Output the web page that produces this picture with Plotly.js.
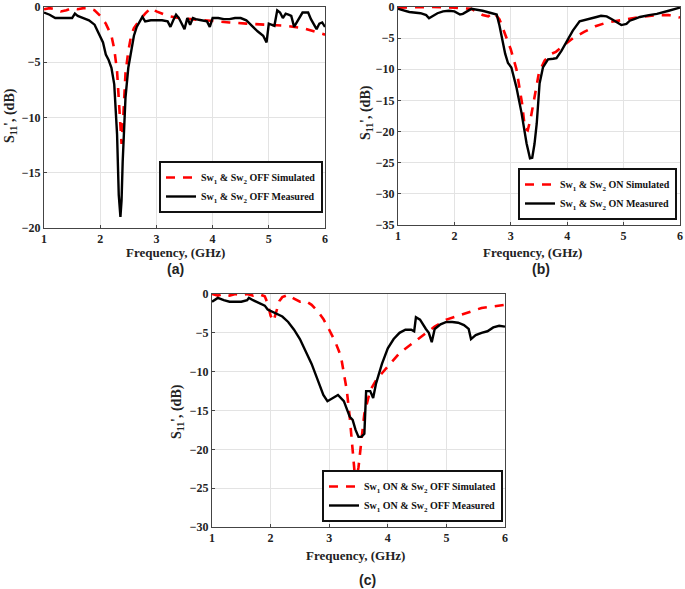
<!DOCTYPE html>
<html>
<head>
<meta charset="utf-8">
<script src="https://cdn.plot.ly/plotly-3.0.1.min.js"></script>
<style>html,body{margin:0;padding:0;background:#fff}#chart{width:685px;height:589px}</style>
</head>
<body>
<div id="chart"></div>
<script>
// Panel (a): Sw1 & Sw2 OFF
const aSimF = [1.0,1.1,1.2,1.3,1.4,1.5,1.6,1.7,1.8,1.9,2.0,2.1,2.2,2.25,2.3,2.35,2.38,2.41,2.45,2.5,2.55,2.6,2.65,2.7,2.8,2.9,3.0,3.2,3.4,3.6,3.8,4.0,4.3,4.6,5.0,5.3,5.6,5.8,6.0];
const aSimV = [-0.2,-0.1,-0.2,-0.4,-0.3,-0.1,-0.2,-0.1,-0.1,-0.3,-0.8,-1.5,-2.6,-3.8,-5.8,-9.5,-12.4,-10.0,-6.0,-4.0,-2.6,-1.9,-1.5,-1.2,-0.6,-0.1,-0.4,-0.8,-1.0,-1.1,-1.2,-1.3,-1.4,-1.5,-1.6,-1.7,-1.9,-2.2,-2.5];
const aMeaF = [1.0,1.1,1.2,1.3,1.4,1.5,1.55,1.6,1.7,1.8,1.9,2.0,2.05,2.1,2.15,2.2,2.25,2.3,2.33,2.36,2.38,2.4,2.42,2.45,2.5,2.55,2.6,2.65,2.7,2.75,2.8,2.9,3.0,3.1,3.2,3.25,3.3,3.35,3.4,3.45,3.5,3.55,3.6,3.65,3.7,3.8,3.9,3.95,4.0,4.1,4.2,4.3,4.4,4.5,4.6,4.7,4.8,4.9,4.96,5.0,5.05,5.1,5.15,5.2,5.25,5.3,5.35,5.4,5.45,5.5,5.55,5.6,5.65,5.7,5.75,5.8,5.85,5.9,5.95,6.0];
const aMeaV = [-0.5,-0.7,-1.0,-1.0,-1.0,-1.0,-0.6,-0.8,-1.0,-1.2,-1.6,-2.6,-3.2,-4.3,-4.8,-5.5,-7.0,-11.5,-17.0,-19.0,-17.5,-14.0,-11.0,-8.2,-5.5,-4.0,-2.6,-1.8,-1.3,-0.9,-1.3,-1.2,-1.2,-1.2,-1.3,-1.8,-1.2,-0.7,-1.0,-1.5,-2.0,-1.0,-1.6,-1.0,-1.1,-1.2,-1.3,-1.8,-1.0,-1.0,-1.1,-1.1,-1.0,-1.0,-1.2,-1.7,-2.2,-2.6,-3.2,-1.5,-1.6,-1.7,-0.3,-0.5,-1.0,-0.6,-0.7,-0.8,-1.8,-1.4,-1.0,-0.5,-0.5,-0.5,-1.1,-1.6,-2.0,-1.5,-1.4,-1.8];

// Panel (b): Sw1 & Sw2 ON
const bSimF = [1.0,1.3,1.6,2.0,2.3,2.4,2.5,2.6,2.7,2.8,2.9,3.0,3.1,3.15,3.2,3.25,3.3,3.35,3.4,3.45,3.5,3.6,3.7,3.8,3.9,4.0,4.1,4.3,4.5,4.7,5.0,5.3,5.6,5.8,6.0];
const bSimV = [-0.1,0.0,0.0,-0.1,-0.3,-0.8,-1.3,-1.5,-0.9,-2.0,-4.3,-6.8,-10.0,-12.5,-15.5,-19.5,-19.8,-18.0,-15.5,-12.8,-10.5,-8.6,-7.6,-7.2,-6.5,-5.8,-5.0,-4.0,-3.1,-2.5,-2.0,-1.6,-1.3,-1.3,-1.7];
const bMeaF = [1.0,1.2,1.4,1.5,1.55,1.6,1.7,1.8,1.9,2.0,2.1,2.15,2.2,2.3,2.5,2.6,2.7,2.75,2.8,2.86,2.9,2.95,3.01,3.1,3.19,3.28,3.34,3.38,3.42,3.46,3.51,3.57,3.66,3.75,3.81,3.9,4.02,4.1,4.22,4.37,4.52,4.6,4.7,4.8,4.88,4.96,5.05,5.11,5.2,5.29,5.45,5.59,5.8,6.0];
const bMeaV = [-0.3,-0.8,-1.0,-1.3,-1.8,-1.5,-1.0,-0.7,-0.6,-0.7,-1.2,-1.1,-0.8,-0.3,-0.6,-0.8,-1.0,-1.2,-3.0,-6.0,-7.5,-9.0,-9.7,-12.9,-17.0,-21.9,-24.3,-24.2,-22.0,-18.7,-12.3,-9.7,-8.4,-8.3,-8.2,-7.0,-5.2,-3.8,-2.3,-2.0,-1.6,-1.4,-1.5,-2.0,-2.5,-2.9,-2.7,-2.2,-1.9,-1.6,-1.3,-1.1,-0.6,-0.1];

// Panel (c): Sw1 ON & Sw2 OFF
const cSimF = [1.0,1.1,1.2,1.3,1.4,1.5,1.6,1.7,1.8,1.9,1.95,2.0,2.05,2.1,2.15,2.2,2.3,2.4,2.5,2.6,2.7,2.8,2.9,3.0,3.1,3.2,3.3,3.35,3.4,3.45,3.5,3.55,3.6,3.7,3.8,3.9,4.0,4.2,4.5,4.8,5.0,5.3,5.6,5.8,6.0];
const cSimV = [0.0,-0.2,0.0,-0.2,0.0,-0.2,0.0,-0.2,0.0,-0.3,-1.2,-2.8,-3.5,-2.2,-0.9,-0.4,-0.1,-0.6,-1.0,-0.9,-1.4,-2.2,-3.2,-4.6,-6.1,-8.0,-12.4,-15.8,-19.7,-24.4,-22.3,-18.4,-15.4,-12.4,-11.1,-10.2,-9.3,-7.6,-5.9,-4.2,-3.3,-2.5,-1.8,-1.6,-1.4];
const cMeaF = [1.0,1.05,1.1,1.2,1.3,1.4,1.5,1.6,1.63,1.7,1.8,1.9,1.95,2.0,2.1,2.2,2.3,2.4,2.5,2.6,2.7,2.8,2.85,2.9,2.97,3.05,3.15,3.25,3.3,3.35,3.4,3.45,3.5,3.55,3.6,3.63,3.7,3.75,3.8,3.9,4.0,4.1,4.2,4.3,4.4,4.45,4.48,4.55,4.65,4.7,4.75,4.8,4.9,5.0,5.1,5.2,5.3,5.38,5.42,5.5,5.6,5.7,5.8,5.9,6.0];
const cMeaV = [-1.0,-0.7,-0.5,-0.8,-1.0,-1.0,-1.0,-0.8,-0.5,-0.8,-1.1,-1.5,-2.0,-2.2,-2.5,-2.9,-3.6,-4.6,-5.8,-7.3,-9.0,-11.0,-12.0,-13.0,-13.8,-13.4,-13.0,-13.8,-14.7,-15.8,-16.2,-17.5,-18.4,-18.4,-18.0,-12.5,-12.5,-13.4,-11.5,-9.0,-7.0,-5.8,-5.0,-4.6,-4.6,-4.8,-3.0,-3.3,-4.5,-5.0,-6.2,-4.5,-3.9,-3.6,-3.6,-3.7,-4.0,-4.5,-5.8,-5.3,-5.0,-4.8,-4.3,-4.1,-4.2];

const names = {
  aSim: 'Sw<sub>1</sub> & Sw<sub>2</sub> OFF Simulated',
  aMea: 'Sw<sub>1</sub> & Sw<sub>2</sub> OFF Measured',
  bSim: 'Sw<sub>1</sub> & Sw<sub>2</sub> ON Simulated',
  bMea: 'Sw<sub>1</sub> & Sw<sub>2</sub> ON Measured',
  cSim: 'Sw<sub>1</sub> ON & Sw<sub>2</sub> OFF Simulated',
  cMea: 'Sw<sub>1</sub> ON & Sw<sub>2</sub> OFF Measured'
};
const xTicks = [1,2,3,4,5,6];
const panelLabels = ['(a)','(b)','(c)'];
const xTitle = 'Frequency, (GHz)';
const yTitle = "S<sub>11</sub>', (dB)";

const W = 685, H = 589;
const px = v => v / W;
const py = v => 1 - v / H;
const serif = 'Liberation Serif, Times New Roman, serif';
const red = '#ff0000';

function simTrace(x, y, name, xa, ya, lg) {
  return {x, y, name, xaxis: xa, yaxis: ya, legend: lg, type: 'scatter', mode: 'lines',
    line: {color: red, width: 2.6, dash: '9px,8px'}};
}
function meaTrace(x, y, name, xa, ya, lg) {
  return {x, y, name, xaxis: xa, yaxis: ya, legend: lg, type: 'scatter', mode: 'lines',
    line: {color: '#000', width: 2.4}};
}

const data = [
  simTrace(aSimF, aSimV, names.aSim, 'x', 'y', 'legend'),
  meaTrace(aMeaF, aMeaV, names.aMea, 'x', 'y', 'legend'),
  simTrace(bSimF, bSimV, names.bSim, 'x2', 'y2', 'legend2'),
  meaTrace(bMeaF, bMeaV, names.bMea, 'x2', 'y2', 'legend2'),
  simTrace(cSimF, cSimV, names.cSim, 'x3', 'y3', 'legend3'),
  meaTrace(cMeaF, cMeaV, names.cMea, 'x3', 'y3', 'legend3')
];

function xax(d, anchor) {
  return {domain: d, anchor, range: [1, 6], tickvals: xTicks, ticktext: xTicks.map(String),
    showgrid: true, gridcolor: '#e3e3e3', gridwidth: 1, zeroline: false,
    showline: true, mirror: true, linecolor: '#444', linewidth: 1,
    ticks: 'inside', ticklen: 3, tickcolor: '#444', ticklabeloverflow: 'allow',
    tickfont: {family: serif, size: 12, color: '#222', weight: 'bold'}};
}
function yax(d, anchor, lo) {
  return {domain: d, anchor, range: [lo, 0], dtick: 5, tick0: 0,
    showgrid: true, gridcolor: '#e3e3e3', gridwidth: 1, zeroline: false,
    showline: true, mirror: true, linecolor: '#444', linewidth: 1,
    ticks: 'inside', ticklen: 3, tickcolor: '#444', ticklabeloverflow: 'allow',
    tickfont: {family: serif, size: 12, color: '#222', weight: 'bold'}};
}
function leg(x1, y1) {
  return {x: px(x1), y: py(y1), xanchor: 'right', yanchor: 'bottom',
    bgcolor: '#fff', bordercolor: '#111', borderwidth: 2,
    font: {family: serif, size: 10, color: '#111', weight: 'bold'},
    tracegroupgap: 0, itemwidth: 30};
}

const ann = [];
function txt(x, y, t, size, fam, angle) {
  ann.push({xref: 'paper', yref: 'paper', x: px(x), y: py(y), text: t, showarrow: false,
    xanchor: 'center', yanchor: 'middle', textangle: angle || 0,
    font: {family: fam, size, color: '#222', weight: 'bold'}});
}
txt(175, 252, xTitle, 13, serif);
txt(532, 252, xTitle, 13, serif);
txt(355, 555, xTitle, 13, serif);
txt(11, 116, yTitle, 14, serif, -90);
txt(366, 112, yTitle, 14, serif, -90);
txt(177, 412, yTitle, 14, serif, -90);
txt(175, 269, panelLabels[0], 14, 'Liberation Sans, Arial, sans-serif');
txt(541, 269, panelLabels[1], 14, 'Liberation Sans, Arial, sans-serif');
txt(367, 580, panelLabels[2], 14, 'Liberation Sans, Arial, sans-serif');

const layout = {
  width: W, height: H, margin: {l: 0, r: 0, t: 0, b: 0},
  paper_bgcolor: '#fff', plot_bgcolor: '#fff', showlegend: true,
  xaxis: xax([px(44), px(325)], 'y'),
  yaxis: yax([py(228), py(7)], 'x', -20),
  xaxis2: xax([px(398), px(680)], 'y2'),
  yaxis2: yax([py(225), py(7)], 'x2', -35),
  xaxis3: xax([px(212), px(505)], 'y3'),
  yaxis3: yax([py(527), py(294)], 'x3', -30),
  legend: leg(323, 213),
  legend2: leg(677, 220),
  legend3: leg(503, 522),
  annotations: ann
};

Plotly.newPlot('chart', data, layout, {staticPlot: true, displayModeBar: false});
</script>
</body>
</html>
